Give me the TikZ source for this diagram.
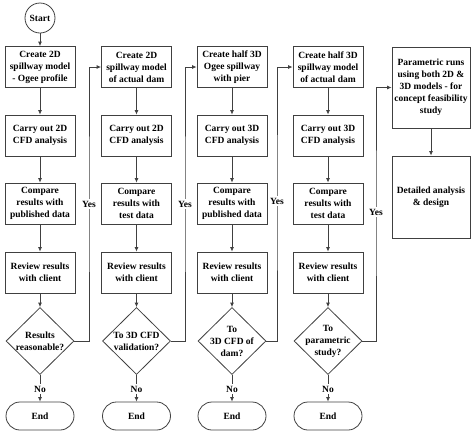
\documentclass[tikz,border=0pt]{standalone}
\usepackage{fontspec}
\setmainfont{Liberation Serif}
\usetikzlibrary{shapes.geometric,arrows.meta}
\definecolor{lc}{gray}{0.25}
\begin{document}
\begin{tikzpicture}[x=1pt,y=-1pt,
  line width=0.8pt,
  every node/.style={font=\bfseries\fontsize{9.5}{12}\selectfont, text=black},
  box/.style={draw=lc, minimum width=70pt, minimum height=41pt, align=center, inner sep=1pt},
  dia/.style={draw=lc, diamond, minimum width=68pt, minimum height=67pt, inner sep=0pt},
  diatext/.style={align=center, inner sep=0pt},
  term/.style={draw=lc, rounded corners=14pt, minimum width=68pt, minimum height=28pt},
  arr/.style={draw=lc, -{Latex[length=4.5pt,width=4pt]}},
  lbl/.style={fill=white, inner sep=1.5pt}]
\useasboundingbox (0,0) rectangle (474,437);

% start
\node[draw=lc, circle, minimum size=30pt, inner sep=0pt] (start) at (40,18) {Start};

% column 1
\node[box] (b11) at (40,67) {Create 2D\\spillway model\\- Ogee profile};
\node[box] (b12) at (40,135.5) {Carry out 2D\\CFD analysis};
\node[box] (b13) at (40,203.5) {Compare\\results with\\published data};
\node[box] (b14) at (40,272.5) {Review results\\with client};
\node[dia] (d1) at (40,341) {};
\node[diatext] (d1t) at (40,341) {Results\\reasonable?};
\node[term] (e1) at (40,416) {End};

% column 2
\node[box] (b21) at (136.5,67) {Create 2D\\spillway model\\of actual dam};
\node[box] (b22) at (136.5,135.5) {Carry out 2D\\CFD analysis};
\node[box] (b23) at (136.5,203.5) {Compare\\results with\\test data};
\node[box] (b24) at (136.5,272.5) {Review results\\with client};
\node[dia] (d2) at (136.5,341) {};
\node[diatext] (d2t) at (136.5,341) {To 3D CFD\\validation?};
\node[term] (e2) at (136.5,416) {End};

% column 3
\node[box] (b31) at (232,67) {Create half 3D\\Ogee spillway\\with pier};
\node[box] (b32) at (232,135.5) {Carry out 3D\\CFD analysis};
\node[box] (b33) at (232,203.5) {Compare\\results with\\published data};
\node[box] (b34) at (232,272.5) {Review results\\with client};
\node[dia] (d3) at (232,341) {};
\node[diatext] (d3t) at (232,341) {To\\3D CFD of\\dam?};
\node[term] (e3) at (232,416) {End};

% column 4
\node[box] (b41) at (328,67) {Create half 3D\\spillway model\\of actual dam};
\node[box] (b42) at (328,135.5) {Carry out 3D\\CFD analysis};
\node[box] (b43) at (328,203.5) {Compare\\results with\\test data};
\node[box] (b44) at (328,272.5) {Review results\\with client};
\node[dia] (d4) at (328,341) {};
\node[diatext] (d4t) at (328,341) {To\\parametric\\study?};
\node[term] (e4) at (328,416) {End};

% column 5
\node[box, minimum width=78pt, minimum height=81pt] (b51) at (431,87.5) {Parametric runs\\using both 2D \&\\3D models - for\\concept feasibility\\study};
\node[box, minimum width=78pt, minimum height=82pt] (b52) at (431,197) {Detailed analysis\\\& design};

% vertical flows
\draw[arr] (start) -- (b11);
\foreach \c in {1,2,3,4}{
  \draw[arr] (b\c1) -- (b\c2);
  \draw[arr] (b\c2) -- (b\c3);
  \draw[arr] (b\c3) -- (b\c4);
  \draw[arr] (b\c4) -- (d\c.north);
}
\draw[arr] (b51) -- (b52);

% No branches
\foreach \c/\x in {1/40,2/136.5,3/232,4/328}{
  \draw[arr] (d\c.south) -- (e\c.north);
  \node[lbl] (no\c) at (\x,389) {No};
}

% Yes branches
\coordinate (y1) at (89,204);
\coordinate (y2) at (185,204);
\coordinate (y3) at (277,201);
\coordinate (y4) at (376,212);
\draw[arr] (d1.east) -| (y1) |- (b21.west);
\draw[arr] (d2.east) -| (y2) |- (b31.west);
\draw[arr] (d3.east) -| (y3) |- (b41.west);
\draw[arr] (d4.east) -| (y4) |- (b51.west);
\node[lbl] (yl1) at (y1) {Yes};
\node[lbl] (yl2) at (y2) {Yes};
\node[lbl] (yl3) at (y3) {Yes};
\node[lbl] (yl4) at (y4) {Yes};
\end{tikzpicture}
\end{document}
